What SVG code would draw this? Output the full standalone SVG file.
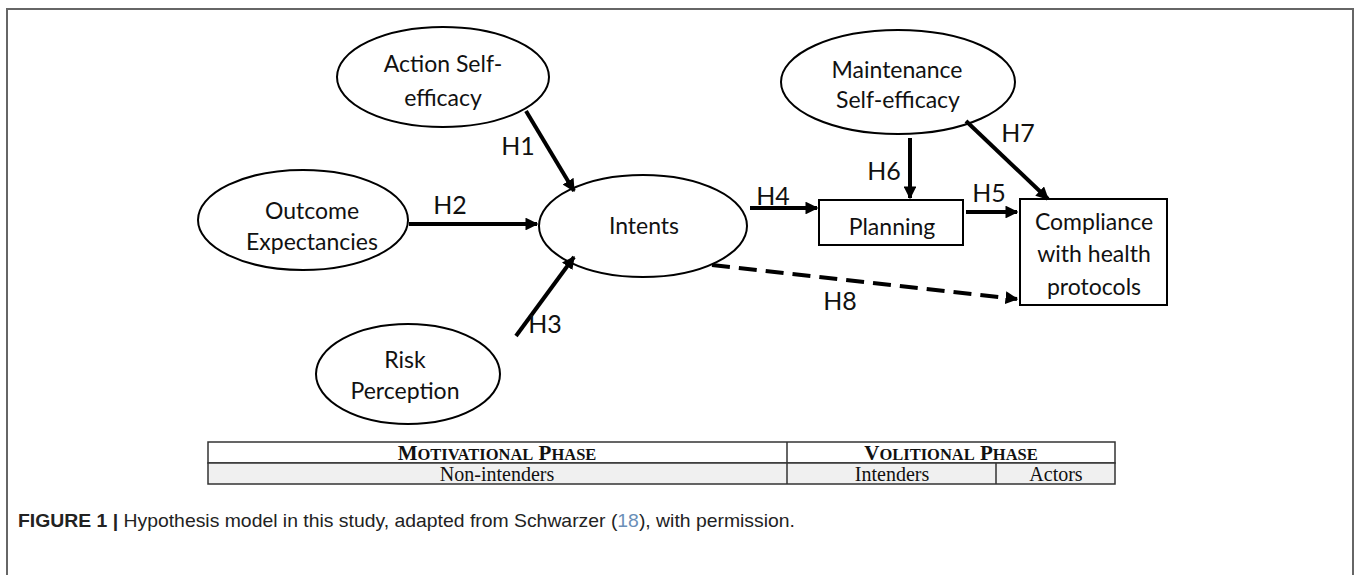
<svg xmlns="http://www.w3.org/2000/svg" width="1358" height="575" viewBox="0 0 1358 575">
<defs>
<marker id="ah" viewBox="0 0 10 10" refX="9" refY="5" markerWidth="3.2" markerHeight="3.2" orient="auto" markerUnits="strokeWidth">
<path d="M0,0 L10,5 L0,10 z" fill="#000"/>
</marker>
</defs>
<style>
.node{fill:#fff;stroke:#000;stroke-width:2}
.t{font-family:Lato,"Open Sans","Liberation Sans",sans-serif;font-size:23px;fill:#111;text-anchor:middle}
.lbl{font-family:Lato,"Open Sans","Liberation Sans",sans-serif;font-size:25px;fill:#111;text-anchor:middle}
.edge{stroke:#000;stroke-width:4;fill:none;marker-end:url(#ah)}
.dash{stroke-dasharray:18,9}
.tb{font-family:"Liberation Serif",serif;fill:#111;text-anchor:middle}
.cell{stroke:#333;stroke-width:1.5}
</style>
<rect width="1358" height="575" fill="#fff"/>
<path d="M7,575 V9 H1353 V575" fill="none" stroke="#666" stroke-width="2"/>

<g id="action">
<ellipse class="node" cx="443" cy="77" rx="106" ry="50"/>
<text class="t" x="443" y="72">Action Self-</text>
<text class="t" x="443" y="106">efficacy</text>
</g>
<g id="outcome">
<ellipse class="node" cx="303" cy="220" rx="105" ry="50"/>
<text class="t" x="312" y="219">Outcome</text>
<text class="t" x="312" y="250">Expectancies</text>
</g>
<g id="intents">
<ellipse class="node" cx="643" cy="226" rx="104" ry="51"/>
<text class="t" x="644" y="234">Intents</text>
</g>
<g id="risk">
<ellipse class="node" cx="408" cy="374" rx="92" ry="50"/>
<text class="t" x="405" y="368">Risk</text>
<text class="t" x="405" y="399">Perception</text>
</g>
<g id="maintenance">
<ellipse class="node" cx="898" cy="82" rx="117" ry="52"/>
<text class="t" x="897" y="78">Maintenance</text>
<text class="t" x="898" y="108">Self-efficacy</text>
</g>
<g id="planning">
<rect class="node" x="819" y="200" width="144" height="45"/>
<text class="t" x="892" y="235">Planning</text>
</g>
<g id="compliance">
<rect class="node" x="1020" y="199" width="147" height="106"/>
<text class="t" x="1094" y="230">Compliance</text>
<text class="t" x="1094" y="262">with health</text>
<text class="t" x="1094" y="295">protocols</text>
</g>

<g id="connectors">
<line class="edge" x1="526" y1="111" x2="574" y2="191"/>
<line class="edge" x1="409" y1="224" x2="537" y2="224"/>
<line class="edge" x1="516" y1="336" x2="574" y2="257"/>
<line class="edge" x1="750" y1="208" x2="817" y2="208"/>
<line class="edge" x1="966" y1="212" x2="1017" y2="212"/>
<line class="edge" x1="910" y1="138" x2="910" y2="198"/>
<line class="edge" x1="966" y1="121" x2="1048" y2="199"/>
<line class="edge dash" x1="712" y1="265" x2="1017" y2="299"/>
<text class="lbl" x="518" y="155">H1</text>
<text class="lbl" x="450" y="214">H2</text>
<text class="lbl" x="545" y="333">H3</text>
<text class="lbl" x="773" y="205">H4</text>
<text class="lbl" x="989" y="202">H5</text>
<text class="lbl" x="884" y="180">H6</text>
<text class="lbl" x="1018" y="142">H7</text>
<text class="lbl" x="840" y="310">H8</text>
</g>

<g id="table">
<rect x="208" y="442" width="907" height="21" fill="#fff" class="cell"/>
<rect x="208" y="463" width="907" height="21" fill="#f0f0f0" class="cell"/>
<line class="cell" x1="787" y1="442" x2="787" y2="484"/>
<line class="cell" x1="996" y1="463" x2="996" y2="484"/>
<text class="tb" x="497" y="460" font-weight="bold" font-size="21">M<tspan font-size="16.5">OTIVATIONAL</tspan> P<tspan font-size="16.5">HASE</tspan></text>
<text class="tb" x="951" y="460" font-weight="bold" font-size="21">V<tspan font-size="16.5">OLITIONAL</tspan> P<tspan font-size="16.5">HASE</tspan></text>
<text class="tb" x="497" y="481" font-size="20">Non-intenders</text>
<text class="tb" x="892" y="481" font-size="20">Intenders</text>
<text class="tb" x="1056" y="481" font-size="20">Actors</text>
</g>

<text x="18" y="527" font-family="'Liberation Sans',sans-serif" font-size="19" fill="#222" textLength="777" lengthAdjust="spacingAndGlyphs"><tspan font-weight="bold">FIGURE 1 |</tspan> Hypothesis model in this study, adapted from Schwarzer (<tspan fill="#6a8fb8">18</tspan>), with permission.</text>
</svg>
